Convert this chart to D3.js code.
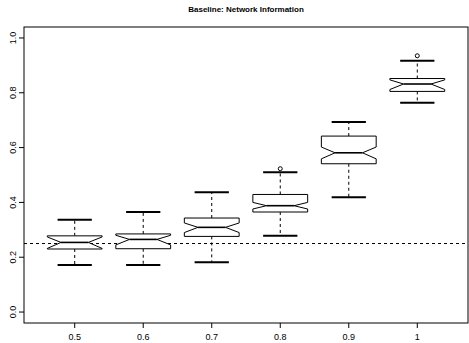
<!DOCTYPE html>
<html><head><meta charset="utf-8">
<script src="https://cdn.jsdelivr.net/npm/d3@7"></script>
<style>body{margin:0;background:#fff;} svg{display:block;}</style>
</head><body>
<script>
const categories = ["0.5","0.6","0.7","0.8","0.9","1"];
const whiskerLow  = [0.172,0.172,0.182,0.278,0.419,0.764];
const q1          = [0.230,0.231,0.276,0.365,0.541,0.805];
const median      = [0.254,0.265,0.309,0.388,0.581,0.832];
const q3          = [0.278,0.285,0.343,0.429,0.642,0.852];
const whiskerHigh = [0.337,0.365,0.437,0.510,0.693,0.917];
const notchLow    = [0.232,0.245,0.290,0.376,0.559,0.812];
const notchHigh   = [0.274,0.280,0.325,0.400,0.602,0.847];
const outliers    = [[],[],[],[0.523],[],[0.935]];
const yTicks = [0,0.2,0.4,0.6,0.8,1.0];
const baseline = 0.25;
const title = "Baseline: Network Information";

const W=469,H=343;
const L=24,R=468,T=27,B=323;
const svg=d3.select("body").append("svg").attr("width",W).attr("height",H);
const x=d3.scaleLinear().domain([0.26,6.74]).range([L,R]);
const y=d3.scaleLinear().domain([-0.04,1.04]).range([B,T]);
const unit = x(2)-x(1);
const wid = 0.4*unit, wntch=0.5*wid, stw=0.25*unit;
const font="'Liberation Sans', Arial, Helvetica, sans-serif";

// title
svg.append("text").attr("x",(L+R)/2).attr("y",11.5).attr("text-anchor","middle")
  .attr("font-family",font).attr("font-weight","bold").attr("font-size",8).text(title);

// frame
svg.append("rect").attr("x",L).attr("y",T).attr("width",R-L).attr("height",B-T)
  .attr("fill","none").attr("stroke","#000").attr("stroke-width",1);

// y axis
const yAx=svg.append("g");
yTicks.forEach(t=>{
  yAx.append("line").attr("x1",L-5).attr("x2",L).attr("y1",y(t)).attr("y2",y(t)).attr("stroke","#000");
  yAx.append("text").attr("transform",`translate(15.5,${y(t)}) rotate(-90)`).attr("text-anchor","middle")
    .attr("font-family",font).attr("font-size",9).text(t.toFixed(1));
});
// x axis
categories.forEach((c,i)=>{
  const cx=x(i+1);
  svg.append("line").attr("x1",cx).attr("x2",cx).attr("y1",B).attr("y2",B+5).attr("stroke","#000");
  svg.append("text").attr("x",cx).attr("y",340).attr("text-anchor","middle")
    .attr("font-family",font).attr("font-size",9).text(c);
});

// baseline
svg.append("line").attr("x1",L).attr("x2",R).attr("y1",y(baseline)).attr("y2",y(baseline))
  .attr("stroke","#000").attr("stroke-dasharray","3,3");

// boxes
categories.forEach((c,i)=>{
  const cx=x(i+1);
  const g=svg.append("g");
  g.append("line").attr("x1",cx).attr("x2",cx).attr("y1",y(q3[i])).attr("y2",y(whiskerHigh[i]))
    .attr("stroke","#000").attr("stroke-dasharray","3,3");
  g.append("line").attr("x1",cx).attr("x2",cx).attr("y1",y(q1[i])).attr("y2",y(whiskerLow[i]))
    .attr("stroke","#000").attr("stroke-dasharray","3,3");
  [whiskerHigh[i],whiskerLow[i]].forEach(v=>{
    g.append("line").attr("x1",cx-stw).attr("x2",cx+stw).attr("y1",y(v)).attr("y2",y(v))
      .attr("stroke","#000").attr("stroke-width",2);
  });
  const pts=[[cx-wid,q1[i]],[cx-wid,notchLow[i]],[cx-wntch,median[i]],[cx-wid,notchHigh[i]],[cx-wid,q3[i]],
             [cx+wid,q3[i]],[cx+wid,notchHigh[i]],[cx+wntch,median[i]],[cx+wid,notchLow[i]],[cx+wid,q1[i]]];
  g.append("polygon").attr("points",pts.map(p=>[p[0],y(p[1])].join(",")).join(" "))
    .attr("fill","#fff").attr("stroke","#000").attr("stroke-width",1);
  g.append("line").attr("x1",cx-wntch).attr("x2",cx+wntch).attr("y1",y(median[i])).attr("y2",y(median[i]))
    .attr("stroke","#000").attr("stroke-width",1.6);
  outliers[i].forEach(v=>{
    g.append("circle").attr("cx",cx).attr("cy",y(v)).attr("r",2).attr("fill","none").attr("stroke","#000");
  });
});
</script>
</body></html>
